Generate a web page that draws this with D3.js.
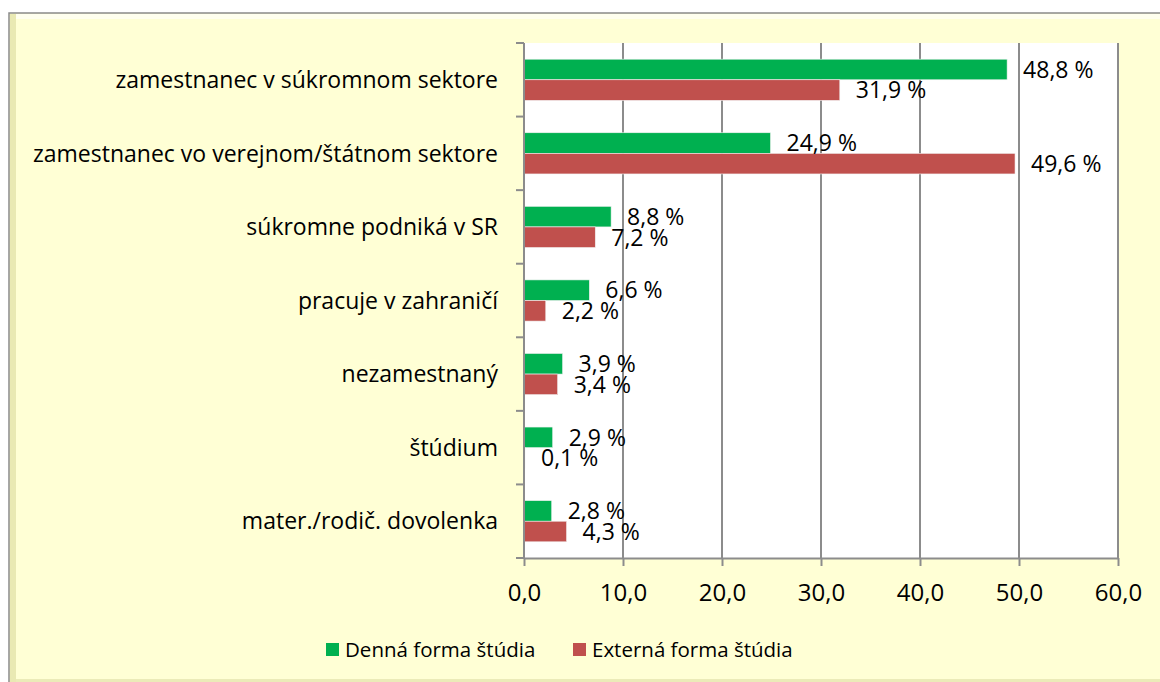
<!DOCTYPE html>
<html>
<head>
    <title>Bar chart</title>
    <script src="https://d3js.org/d3.v7.min.js"></script>
    <style>
        body { margin: 0; background: #fff; }
        text { font-family: "Open Sans", sans-serif; fill: #000; }
        .grid line { stroke: #8c8c8c; stroke-width: 2; }
        .axis path, .axis line { stroke: #8c8c8c; stroke-width: 2; }
    </style>
</head>
<body>
    <svg id="chart" width="1160" height="682"></svg>

    <script>
        // categories and values
        var categories = [
            "zamestnanec v súkromnom sektore",
            "zamestnanec vo verejnom/štátnom sektore",
            "súkromne podniká v SR",
            "pracuje v zahraničí",
            "nezamestnaný",
            "štúdium",
            "mater./rodič. dovolenka"
        ];
        var denna = [48.8, 24.9, 8.8, 6.6, 3.9, 2.9, 2.8];
        var externa = [31.9, 49.6, 7.2, 2.2, 3.4, 0.1, 4.3];
        var seriesNames = ["Denná forma štúdia", "Externá forma štúdia"];
        var seriesColors = ["#00b050", "#c0504d"];
        var xTicks = [0, 10, 20, 30, 40, 50, 60];

        var svg = d3.select("#chart");

        // frame with bevel
        svg.append("rect")
            .attr("x", 9).attr("y", 13).attr("width", 1160).attr("height", 670)
            .attr("fill", "#ffffd5").attr("stroke", "#8a8a8a").attr("stroke-width", 1.5);
        svg.append("rect")
            .attr("x", 10).attr("y", 14).attr("width", 6).attr("height", 668)
            .attr("fill", "#e0e0a4").attr("opacity", 0.7);
        svg.append("rect")
            .attr("x", 16).attr("y", 679).attr("width", 1150).attr("height", 3)
            .attr("fill", "#e6e6b0").attr("opacity", 0.8);
        svg.append("rect")
            .attr("x", 16).attr("y", 14).attr("width", 1150).attr("height", 5)
            .attr("fill", "#ffffff").attr("opacity", 0.6);

        var pLeft = 524, pRight = 1118, pTop = 43, pBottom = 558;

        var x = d3.scaleLinear().domain([0, 60]).range([pLeft, pRight]);
        var y = d3.scaleBand().domain(categories).range([pTop, pBottom]).paddingInner(0.44).paddingOuter(0.22);
        var sub = d3.scaleBand().domain(seriesNames).range([0, y.bandwidth()]);

        // plot area
        svg.append("rect")
            .attr("x", pLeft).attr("y", pTop).attr("width", pRight - pLeft).attr("height", pBottom - pTop)
            .attr("fill", "#fff");

        // gridlines
        svg.append("g").attr("class", "grid")
            .selectAll("line").data(xTicks.slice(1)).join("line")
            .attr("x1", d => x(d)).attr("x2", d => x(d))
            .attr("y1", pTop).attr("y2", pBottom);

        // bars
        var rows = categories.map(function(c, i) {
            return [
                {cat: c, s: seriesNames[0], v: denna[i], color: seriesColors[0]},
                {cat: c, s: seriesNames[1], v: externa[i], color: seriesColors[1]}
            ];
        }).flat();

        svg.append("g").selectAll("rect").data(rows).join("rect")
            .attr("x", x(0))
            .attr("y", d => y(d.cat) + sub(d.s))
            .attr("width", d => x(d.v) - x(0))
            .attr("height", sub.bandwidth())
            .attr("fill", d => d.color)
            .attr("stroke", "#f2f2f2").attr("stroke-width", 0.6);

        svg.append("g").selectAll("text").data(rows).join("text")
            .attr("x", d => x(d.v) + 16)
            .attr("y", d => y(d.cat) + sub(d.s) + sub.bandwidth() / 2)
            .attr("dy", "0.36em")
            .style("font-size", "23px")
            .text(d => d3.format(".1f")(d.v).replace(".", ",") + " %");

        // x axis
        var xAxis = svg.append("g").attr("class", "axis")
            .attr("transform", "translate(0," + pBottom + ")")
            .call(d3.axisBottom(x).tickValues(xTicks).tickSize(8).tickSizeOuter(0)
                .tickFormat(d => d3.format(".1f")(d).replace(".", ",")));
        xAxis.selectAll("text").style("font-size", "24px").attr("y", 43).attr("dy", "0");

        // y axis with ticks between categories
        svg.append("line")
            .attr("x1", pLeft).attr("x2", pLeft).attr("y1", pTop).attr("y2", pBottom)
            .attr("stroke", "#8c8c8c").attr("stroke-width", 2);
        var step = (pBottom - pTop) / categories.length;
        svg.append("g").selectAll("line").data(d3.range(categories.length + 1)).join("line")
            .attr("x1", pLeft - 8).attr("x2", pLeft)
            .attr("y1", d => pTop + d * step).attr("y2", d => pTop + d * step)
            .attr("stroke", "#8c8c8c").attr("stroke-width", 2);

        svg.append("g").selectAll("text").data(categories).join("text")
            .attr("x", 498)
            .attr("y", d => y(d) + y.bandwidth() / 2)
            .attr("dy", "0.36em")
            .attr("text-anchor", "end")
            .style("font-size", "23px")
            .text(d => d);

        // legend
        var legendX = [326, 573];
        var legend = svg.append("g").selectAll("g").data(seriesNames).join("g")
            .attr("transform", (d, i) => "translate(" + legendX[i] + ",650)");
        legend.append("rect")
            .attr("x", 0).attr("y", -7).attr("width", 13).attr("height", 13)
            .attr("fill", (d, i) => seriesColors[i]);
        legend.append("text")
            .attr("x", 19).attr("dy", "0.36em")
            .style("font-size", "20.5px")
            .text(d => d);
    </script>
</body>
</html>
